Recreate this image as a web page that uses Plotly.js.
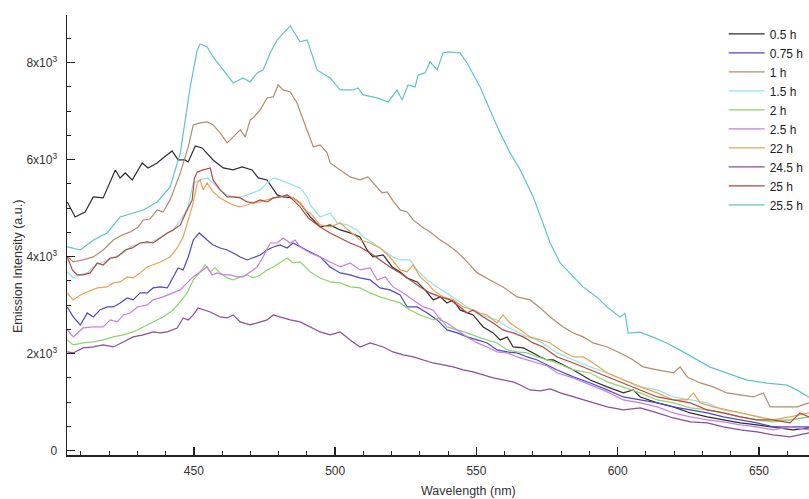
<!DOCTYPE html>
<html>
<head>
<meta charset="utf-8">
<script src="https://cdn.plot.ly/plotly-3.0.1.min.js"></script>
<style>html,body{margin:0;padding:0;background:#fff;}#chart{width:809px;height:499px;}</style>
</head>
<body>
<div id="chart"></div>
<script>
// Series labels
const seriesNames = ['0.5 h','0.75 h','1 h','1.5 h','2 h','2.5 h','22 h','24.5 h','25 h','25.5 h'];

// 0.5 h
const wl_05h = [405.2,408.0,411.5,414.4,417.9,422.2,423.9,425.7,428.2,431.7,433.8,437.0,439.1,442.3,444.4,446.9,448.0,450.5,452.9,456.8,460.4,463.9,467.1,470.6,472.8,475.9,479.5,481.6,485.2,487.6,491.2,494.7,498.2,501.8,505.3,508.8,511.3,513.4,517.0,520.2,523.0,525.5,529.0,531.8,534.7,537.2,539.6,541.8,544.2,546.7,548.8,552.4,555.9,558.4,560.9,563.0,566.6,570.1,572.6,575.1,577.2,584.3,590.3,596.3,602.0,605.5,608.0,614.0,619.7,625.7,631.7,637.4,643.4,649.3,655.0,662.1,667.7];
const int_05h = [5128,4819,4922,5231,5210,5788,5623,5726,5582,5932,5829,5932,6035,6180,5994,5994,5953,6283,6242,5994,5829,5788,5850,5788,5623,5582,5273,5231,5210,5107,4819,4612,4654,4551,4489,4406,4138,3994,4035,3788,3685,3561,3479,3314,3108,3170,3046,3108,2902,2839,2798,2551,2427,2283,2345,2138,2118,2015,1932,1870,1870,1664,1458,1314,1190,1252,1107,984,901,777,695,633,571,530,489,427,468];

// 0.75 h
const wl_075h = [405.2,407.3,409.8,412.3,414.4,416.8,419.3,421.5,423.9,426.4,428.5,431.0,433.5,435.6,438.1,440.6,442.7,444.4,446.2,448.0,449.8,451.9,454.7,456.8,459.3,461.8,463.9,466.4,468.9,471.0,473.5,475.9,478.1,480.5,483.0,485.1,487.6,491.2,494.7,498.2,501.8,505.3,508.8,512.4,515.9,519.4,523.0,525.5,529.0,532.6,536.1,539.6,543.2,546.7,550.3,553.8,557.3,560.9,564.4,568.0,571.5,575.1,578.6,584.3,590.3,596.3,602.0,608.0,614.0,619.7,625.7,631.7,637.4,643.4,649.3,655.0,661.0,667.7];
const int_075h = [2963,2757,2592,2839,2757,2901,2963,2963,3046,3149,3108,3252,3252,3355,3376,3355,3582,3768,3726,3994,4344,4489,4344,4241,4179,4138,4076,3994,3932,3973,4035,4138,4200,4241,4179,4282,4200,4097,3994,3788,3665,3623,3561,3520,3355,3314,3211,2963,2963,2839,2695,2489,2427,2345,2283,2221,2077,2035,2015,1932,1870,1767,1664,1520,1396,1252,1107,1045,984,901,839,777,695,633,571,489,489,489];

// 1 h
const wl_1h = [405.5,407.3,410.8,414.4,417.9,421.5,424.6,427.5,430.3,432.1,434.5,437.0,439.1,441.6,445.2,448.0,449.8,452.2,454.7,456.8,459.3,461.8,463.9,466.4,468.2,469.9,471.0,473.5,475.9,478.1,479.8,481.6,484.1,486.5,488.7,491.2,492.3,494.7,497.2,498.2,501.8,505.3,508.8,511.6,514.1,516.6,518.4,520.5,523.0,525.5,527.6,530.8,533.6,537.2,540.0,543.2,546.7,550.3,554.8,559.4,564.4,569.0,572.6,576.1,580.7,584.3,587.8,591.3,596.3,600.9,605.5,609.0,614.0,619.7,622.1,624.6,629.2,633.8,638.7,643.4,648.0,651.5,654.0,658.6,663.5,667.7];
const int_1h = [3994,3891,3932,3994,4138,4344,4448,4510,4613,4757,4777,4963,4922,5170,5727,6263,6716,6758,6779,6716,6551,6345,6469,6613,6469,6819,6861,7026,7273,7294,7541,7438,7397,7170,6819,6407,6263,6304,6139,5932,5788,5644,5582,5644,5479,5314,5335,5149,4963,4922,4757,4613,4510,4344,4241,4097,3891,3665,3520,3376,3170,3108,2943,2757,2551,2427,2345,2221,2138,2015,1870,1726,1664,1602,1726,1520,1396,1314,1190,1149,1107,1190,901,901,901,984];

// 1.5 h
const wl_15h = [405.2,407.3,409.8,412.3,414.4,417.9,421.5,425.0,427.5,431.0,434.5,438.1,440.6,442.7,445.2,447.6,449.8,452.2,454.7,456.8,459.3,461.8,463.9,466.4,468.9,471.0,473.5,475.9,478.1,480.5,483.0,485.1,487.6,490.1,491.2,494.7,498.2,500.7,504.2,507.8,509.9,513.4,517.0,520.5,523.0,526.5,529.0,532.6,536.1,539.6,543.2,546.7,550.3,553.8,557.3,560.9,564.4,568.0,571.5,575.1,578.6,584.3,590.3,596.3,602.0,608.0,614.0,619.7,625.7,631.7,637.4,643.4,649.3,655.0,661.0,667.7];
const int_15h = [3685,3561,3623,3665,3788,3891,3973,4076,4200,4282,4282,4406,4489,4551,4757,4963,5520,5582,5623,5520,5376,5273,5231,5231,5273,5314,5376,5520,5623,5582,5520,5479,5417,5231,5066,4819,4901,4695,4654,4551,4406,4282,4138,3994,3932,3932,3726,3520,3376,3252,3108,2963,2839,2757,2695,2551,2448,2345,2283,2138,2015,1870,1726,1602,1458,1314,1252,1107,1045,984,839,777,695,633,633,695];

// 2 h
const wl_2h = [405.2,407.3,410.8,414.4,417.9,421.5,425.0,428.5,432.1,435.6,439.1,442.7,445.2,447.6,449.8,452.2,454.0,455.8,457.5,459.3,461.8,463.9,466.4,468.9,471.0,473.5,475.9,478.1,480.5,483.0,485.1,487.6,491.2,494.7,498.2,501.8,505.3,508.8,512.4,515.9,519.4,523.0,526.5,530.1,534.7,537.2,539.6,543.2,546.7,550.3,553.8,557.3,560.9,564.4,568.0,571.5,575.1,578.6,584.3,590.3,596.3,602.0,608.0,614.0,619.7,625.7,631.7,637.4,643.4,649.3,655.0,661.0,667.7];
const int_2h = [2283,2180,2221,2242,2283,2345,2386,2448,2551,2654,2757,2901,3066,3252,3520,3685,3829,3685,3768,3665,3561,3520,3582,3623,3561,3623,3726,3788,3870,3973,3870,3891,3685,3561,3479,3458,3376,3355,3252,3170,3108,3046,2901,2798,2695,2736,2551,2489,2427,2345,2283,2221,2077,2035,2015,1932,1870,1808,1664,1602,1417,1314,1190,1045,984,880,839,777,695,633,592,633,695];

// 2.5 h
const wl_25h = [405.2,407.3,410.8,414.4,417.9,420.4,422.9,425.0,427.5,430.0,433.5,435.6,439.1,442.7,445.2,447.6,449.8,452.2,454.7,456.5,458.2,460.4,462.8,465.3,467.4,469.9,472.4,474.5,477.0,479.5,481.6,484.1,485.8,487.6,491.2,494.7,498.2,501.8,505.3,508.8,512.4,514.9,517.7,520.5,524.1,527.6,531.1,534.7,537.2,539.6,543.2,546.7,550.3,553.8,557.3,560.9,564.4,568.0,571.5,575.1,578.6,584.3,590.3,596.3,602.0,608.0,614.0,619.7,625.7,631.7,637.4,643.4,649.3,655.0,661.0,667.7];
const int_25h = [2489,2345,2530,2551,2551,2695,2654,2798,2839,2963,3004,3108,3170,3252,3314,3458,3582,3685,3788,3623,3665,3623,3623,3582,3582,3685,3788,3994,4282,4282,4386,4282,4344,4200,4076,3994,3891,3788,3870,3726,3768,3520,3582,3376,3252,3108,2963,2901,2695,2633,2489,2345,2221,2138,2035,2015,1932,1870,1808,1746,1602,1499,1355,1211,1045,984,901,777,695,633,592,530,489,427,489,427];

// 22 h
const wl_22h = [405.2,407.3,409.8,412.3,415.8,419.3,421.5,423.9,426.4,428.5,431.0,433.5,435.6,438.1,441.6,444.1,446.2,448.0,449.4,451.2,452.2,453.3,454.7,456.8,459.3,461.8,463.9,466.4,468.9,471.0,473.5,475.9,478.1,480.5,483.0,485.1,487.6,490.1,491.2,494.7,498.2,501.8,505.3,508.8,512.4,515.9,519.4,523.0,525.5,527.6,530.1,532.6,534.7,538.2,541.8,545.3,548.8,551.3,553.8,557.3,559.4,561.9,565.5,569.0,572.6,576.1,579.7,584.3,587.8,591.3,596.3,602.0,608.0,614.0,619.7,624.6,626.8,629.2,633.8,638.7,643.4,649.3,655.0,661.0,667.7];
const int_22h = [3252,3108,3211,3273,3355,3376,3458,3479,3582,3561,3665,3788,3829,3891,3994,4179,4406,4757,5025,5520,5582,5376,5520,5335,5211,5128,5066,5025,5066,5107,5128,5170,5211,5231,5273,5211,5107,4922,4901,4654,4613,4695,4510,4344,4282,4179,3994,3726,3685,3829,3582,3458,3314,3170,3108,2963,2901,2839,2798,2633,2798,2633,2489,2345,2283,2221,2077,1932,1932,1808,1602,1458,1314,1190,1045,1045,1190,984,901,839,777,695,633,695,777];

// 24.5 h
const wl_245h = [405.2,407.3,410.8,414.4,417.9,421.5,425.0,428.5,432.1,435.6,438.1,440.6,444.1,446.2,448.0,449.8,451.5,453.3,455.8,459.3,461.8,463.9,466.4,469.9,473.5,475.9,478.1,480.5,484.1,487.6,491.2,494.7,498.2,501.8,505.3,508.8,512.4,517.0,520.5,524.1,527.6,531.1,534.7,538.2,541.8,545.3,548.8,552.4,555.9,559.4,563.0,565.5,569.0,572.6,576.1,579.7,584.3,590.3,596.3,602.0,608.0,614.0,619.7,625.7,631.7,637.4,643.4,649.3,655.0,661.0,667.7];
const int_245h = [2035,2015,2118,2138,2180,2138,2242,2345,2386,2448,2427,2448,2530,2736,2695,2798,2943,2902,2860,2757,2736,2798,2654,2592,2654,2695,2798,2757,2695,2654,2551,2448,2386,2448,2283,2138,2221,2138,2035,1973,1932,1870,1808,1767,1726,1664,1623,1561,1499,1458,1417,1355,1252,1231,1273,1190,1107,1004,901,839,880,777,674,592,571,489,427,386,324,282,365];

// 25 h
const wl_25hr = [405.2,407.0,408.7,410.8,413.3,415.8,417.9,420.4,422.9,425.7,428.2,431.0,433.5,435.6,438.1,440.6,442.7,445.2,447.6,449.4,450.2,451.2,453.3,455.8,456.8,459.3,461.8,463.9,466.4,468.9,471.0,473.5,475.9,478.1,480.5,483.0,485.1,487.6,490.5,494.7,498.2,501.8,505.3,508.8,512.4,515.9,519.4,523.0,526.5,530.1,533.6,537.2,540.7,544.2,546.7,548.8,552.4,555.9,559.4,563.0,566.6,570.1,573.6,578.6,584.3,590.3,596.3,602.0,608.0,614.0,619.7,625.7,631.7,637.4,643.4,649.3,655.0,661.0,664.5,667.7];
const int_25hr = [3994,3726,3623,3623,3665,3870,3829,3973,3994,4138,4180,4282,4303,4282,4386,4489,4551,4654,4963,5170,5620,5747,5788,5829,5582,5376,5231,5231,5211,5128,5107,5170,5128,5211,5231,5273,5170,5025,4798,4612,4489,4386,4282,4200,4076,3932,3788,3665,3520,3376,3252,3170,3108,2963,2839,2901,2757,2633,2489,2427,2345,2221,2138,1932,1808,1664,1520,1396,1252,1107,1045,984,839,777,695,633,633,571,777,695];

// 25.5 h
const wl_255h = [405.2,409.8,414.5,419.3,423.9,428.5,432.1,437.0,441.6,445.2,448.7,451.2,452.2,454.7,456.8,460.4,463.9,467.4,469.9,472.4,474.5,477.0,479.5,484.1,487.6,490.1,493.6,498.2,501.8,506.4,508.1,509.9,514.9,518.8,521.9,523.7,525.8,528.3,529.4,531.8,533.6,536.1,538.2,540.0,542.4,544.2,546.7,551.3,554.8,558.4,561.9,565.5,570.1,573.6,576.1,579.7,584.3,587.8,592.7,596.3,600.9,602.6,603.7,607.9,612.5,617.5,622.1,628.1,632.7,638.7,645.8,652.9,660.0,663.5,667.7];
const int_255h = [4200,4138,4344,4489,4819,4901,4963,5128,5438,6139,7500,8263,8386,8324,8118,7850,7582,7685,7603,7788,7850,8201,8469,8758,8428,8469,7850,7685,7438,7438,7479,7335,7273,7190,7438,7232,7541,7500,7747,7788,8015,7850,8201,8221,8201,8201,7994,7500,7026,6552,6139,5789,5232,4696,4283,3866,3577,3371,3165,2959,2753,2835,2423,2443,2340,2216,2072,1866,1722,1598,1454,1392,1351,1248,1103];

// Tick labels
const yTickVals = [0,2000,4000,6000,8000];
const yTickText = ['0','2x10<sup>3</sup>','4x10<sup>3</sup>','6x10<sup>3</sup>','8x10<sup>3</sup>'];
const xTickVals = [450,500,550,600,650];

const xs = [wl_05h, wl_075h, wl_1h, wl_15h, wl_2h, wl_25h, wl_22h, wl_245h, wl_25hr, wl_255h];
const ys = [int_05h, int_075h, int_1h, int_15h, int_2h, int_25h, int_22h, int_245h, int_25hr, int_255h];
const colors = ['#2e2e2e','#4b48c9','#b38c6c','#90e4ea','#8fd46b','#c97de6','#eea152','#8b4d9c','#b2483f','#5fc3cb'];

const traces = seriesNames.map((n, i) => ({
  type: 'scatter', mode: 'lines', name: n,
  x: xs[i], y: ys[i],
  line: {color: colors[i], width: 1.2}
}));

const fam = '"Liberation Sans", Arial, sans-serif';
const tickFont = {family: fam, size: 12, color: '#333'};
const titleFont = {family: fam, size: 12.5, color: '#333'};

const layout = {
  width: 809, height: 499,
  margin: {l: 67, r: 0, t: 15, b: 44},
  paper_bgcolor: '#fff', plot_bgcolor: '#fff',
  font: tickFont,
  showlegend: true,
  legend: {x: 0.885, y: 0.99, xanchor: 'left', yanchor: 'top', bgcolor: 'rgba(255,255,255,0)', itemwidth: 36, font: {family: fam, size: 12, color: '#222'}, tracegroupgap: 0},
  xaxis: {
    range: [405.1, 667.7], showgrid: false, zeroline: false,
    showline: true, linecolor: '#222', linewidth: 1.5,
    ticks: 'inside', ticklen: 8, tickwidth: 1.3, tickcolor: '#222',
    tickvals: xTickVals, ticklabelstandoff: 4,
    minor: {ticks: 'inside', ticklen: 4, tickcolor: '#222', tickwidth: 1, dtick: 10, tick0: 400, showgrid: false},
    tickfont: tickFont
  },
  yaxis: {
    range: [-90, 8983], showgrid: false, zeroline: false,
    showline: true, linecolor: '#222', linewidth: 1.5,
    ticks: 'inside', ticklen: 8, tickwidth: 1.3, tickcolor: '#222',
    tickvals: yTickVals, ticktext: yTickText, ticklabelstandoff: 6,
    minor: {ticks: 'inside', ticklen: 4, tickcolor: '#222', tickwidth: 1, dtick: 500, tick0: 0, showgrid: false},
    tickfont: tickFont
  },
  annotations: [
    {text: 'Wavelength (nm)', xref: 'paper', yref: 'paper', x: (468-67)/742, y: -0.082, xanchor: 'center', yanchor: 'middle', showarrow: false, font: titleFont},
    {text: 'Emission Intensity (a.u.)', xref: 'paper', yref: 'paper', x: -0.066, y: (455-267)/440, xanchor: 'center', yanchor: 'middle', textangle: -90, showarrow: false, font: titleFont}
  ]
};

Plotly.newPlot('chart', traces, layout, {displayModeBar: false, staticPlot: true});
</script>
</body>
</html>
